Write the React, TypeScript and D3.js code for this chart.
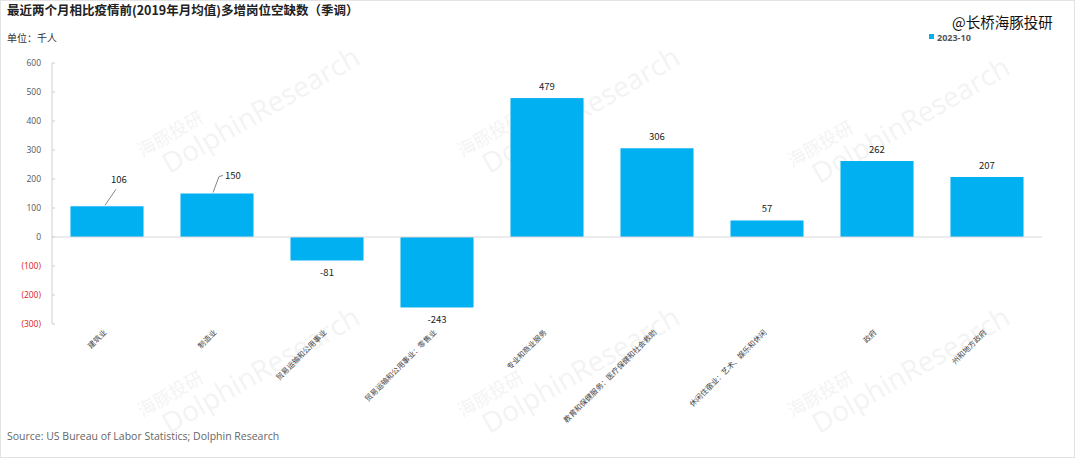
import React from "react";
import * as d3 from "d3";

const categories = [
  "建筑业",
  "制造业",
  "贸易运输和公用事业",
  "贸易运输和公用事业：零售业",
  "专业和商业服务",
  "教育和保健服务：医疗保健和社会救助",
  "休闲住宿业：艺术、娱乐和休闲",
  "政府",
  "州和地方政府",
];
const values = [106, 150, -81, -243, 479, 306, 57, 262, 207];
const yTicks = [600, 500, 400, 300, 200, 100, 0, -100, -200, -300];
const seriesName = "2023-10";

const W = 1080;
const H = 458;
const FONT = "'Noto Sans CJK SC', 'Noto Sans', sans-serif";
const BLUE = "#00B0F0";

export default function App() {
  const x = d3.scaleBand<string>().domain(categories).range([52, 1042]).paddingInner(0.336).paddingOuter(0.168);
  const y = d3.scaleLinear().domain([-300, 600]).range([324, 63]);
  const fmt = (v: number) => (v < 0 ? `(${Math.abs(v)})` : `${v}`);

  const watermarks = [
    [190, 130],
    [510, 130],
    [840, 140],
    [190, 390],
    [510, 390],
    [840, 390],
  ];

  return (
    <svg width={W} height={H} style={{ display: "block", position: "absolute", left: 0, top: 0 }} fontFamily={FONT}>
      <rect x={0} y={0} width={W} height={H} fill="#fff" />
      <rect x={0.5} y={0.5} width={W - 6} height={H - 1} fill="none" stroke="#e3e3e3" />
      {watermarks.map(([wx, wy], i) => (
        <g key={i} transform={`translate(${wx},${wy}) rotate(-30)`} fill="#000" opacity={0.045}>
          <text x={-55} y={0} fontSize={18}>海豚投研</text>
          <text x={-40} y={28} fontSize={28} fontFamily="'Open Sans', sans-serif">DolphinResearch</text>
        </g>
      ))}
      <text x={7} y={15} fontSize={12.5} fontWeight="bold" fill="#222">
        最近两个月相比疫情前(2019年月均值)多增岗位空缺数（季调）
      </text>
      <text x={7} y={42} fontSize={10} fill="#333">单位：千人</text>
      <text x={952} y={28} fontSize={14.5} fill="#111">@长桥海豚投研</text>
      <rect x={929} y={34} width={5} height={5} fill={BLUE} />
      <text x={937} y={40.5} fontSize={9} fontWeight="bold" fill="#555" fontFamily="'Open Sans', sans-serif">{seriesName}</text>

      {/* y axis */}
      <line x1={52} x2={52} y1={y(600)} y2={y(-300)} stroke="#d0d0d0" />
      {yTicks.map((t) => (
        <g key={t}>
          <line x1={52} x2={55} y1={y(t)} y2={y(t)} stroke="#d0d0d0" />
          <text x={41} y={y(t) + 3} fontSize={8.5} textAnchor="end" fill={t < 0 ? "#e02020" : "#555"} fontFamily="'Open Sans', sans-serif">
            {fmt(t)}
          </text>
        </g>
      ))}

      {categories.map((c, i) => {
        const v = values[i];
        const bx = x(c)!;
        const bw = x.bandwidth();
        const cx = bx + bw / 2;
        const top = y(Math.max(0, v));
        const h = Math.abs(y(v) - y(0));
        let label: React.ReactNode;
        if (i === 0) {
          label = (
            <g>
              <line x1={cx - 2} y1={top - 1} x2={cx + 9} y2={y(v) - 17} stroke="#666" strokeWidth={0.8} />
              <text x={cx + 12} y={y(v) - 23} fontSize={9.5} textAnchor="middle" fill="#222">{v}</text>
            </g>
          );
        } else if (i === 1) {
          label = (
            <g>
              <path d={`M${cx - 4},${top - 1} L${cx + 2},${top - 17} L${cx + 6},${top - 18}`} fill="none" stroke="#666" strokeWidth={0.8} />
              <text x={cx + 16} y={top - 15} fontSize={9.5} textAnchor="middle" fill="#222">{v}</text>
            </g>
          );
        } else if (v >= 0) {
          label = <text x={cx} y={top - 8} fontSize={9.5} textAnchor="middle" fill="#222">{v}</text>;
        } else {
          label = <text x={cx} y={y(v) + 16} fontSize={9.5} textAnchor="middle" fill="#222">{v}</text>;
        }
        return (
          <g key={c}>
            <rect x={bx} y={top} width={bw} height={h} fill={BLUE} />
            {label}
            <text
              transform={`translate(${cx},${333}) rotate(-45)`}
              fontSize={7.5}
              textAnchor="end"
              fill="#444"
            >
              {c}
            </text>
          </g>
        );
      })}
      <line x1={52} x2={1042} y1={y(0)} y2={y(0)} stroke="#d9d9d9" />

      <text x={7} y={440} fontSize={10.5} fill="#666" fontFamily="'Open Sans', sans-serif">
        Source: US Bureau of Labor Statistics; Dolphin Research
      </text>
    </svg>
  );
}
